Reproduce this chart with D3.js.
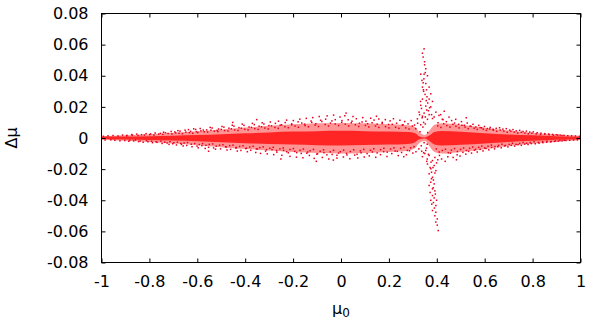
<!DOCTYPE html>
<html><head><meta charset="utf-8">
<script src="https://cdn.jsdelivr.net/npm/d3@7"></script>
<style>body{margin:0;background:#fff}svg{display:block}text{font-family:"DejaVu Sans",sans-serif;fill:#000}</style>
</head><body>
<svg id="chart" width="600" height="326"></svg>
<script>
const xTicks = [-1, -0.8, -0.6, -0.4, -0.2, 0, 0.2, 0.4, 0.6, 0.8, 1];
const yTicks = [-0.08, -0.06, -0.04, -0.02, 0, 0.02, 0.04, 0.06, 0.08];
const xTickLabels = ["-1","-0.8","-0.6","-0.4","-0.2","0","0.2","0.4","0.6","0.8","1"];
const yTickLabels = ["-0.08","-0.06","-0.04","-0.02","0","0.02","0.04","0.06","0.08"];

// envelopes of the dense core and of the medium-density band
const coreMu0   = [-1, -0.95, -0.9, -0.8, -0.7, -0.6, -0.5, -0.4, -0.3, -0.2, -0.1, 0, 0.1, 0.2, 0.28, 0.31, 0.325, 0.35, 0.37, 0.39, 0.42, 0.5, 0.6, 0.7, 0.8, 0.9, 0.95, 1];
const coreUpper = [0.0008,0.0009,0.0010,0.0012,0.0015,0.0019,0.0024,0.0030,0.0036,0.0041,0.0044,0.0046,0.0044,0.0041,0.0038,0.0030,0.0012,0.0004,0.0017,0.0038,0.0045,0.0040,0.0031,0.0023,0.0017,0.0012,0.0010,0.0008];
const coreLower = [-0.0008,-0.0009,-0.0010,-0.0013,-0.0016,-0.0021,-0.0027,-0.0033,-0.0038,-0.0042,-0.0046,-0.0048,-0.0045,-0.0042,-0.0038,-0.0027,-0.0010,-0.0004,-0.0020,-0.0042,-0.0048,-0.0044,-0.0035,-0.0025,-0.0018,-0.0012,-0.0010,-0.0008];
const bandUpper = [0.0012,0.0014,0.0017,0.0024,0.0033,0.0043,0.0055,0.0067,0.0078,0.0088,0.0094,0.0097,0.0094,0.0088,0.0082,0.0070,0.0040,0.0020,0.0050,0.0085,0.0095,0.0085,0.0066,0.0048,0.0034,0.0022,0.0017,0.0013];
const bandLower = [-0.0012,-0.0014,-0.0018,-0.0026,-0.0036,-0.0047,-0.0059,-0.0070,-0.0080,-0.0090,-0.0097,-0.0100,-0.0096,-0.0090,-0.0082,-0.0065,-0.0035,-0.0020,-0.0055,-0.0090,-0.0100,-0.0090,-0.0072,-0.0052,-0.0037,-0.0024,-0.0018,-0.0013];

// scattered outer points [mu0, dmu]
const haloPoints = [
[-0.992,0.0011],[-0.985,-0.0013],[-0.973,0.0014],[-0.961,-0.0012],[-0.952,0.0016],[-0.944,-0.0015],[-0.931,0.0013],[-0.923,-0.0018],[-0.912,0.0019],[-0.903,-0.0016],
[-0.894,0.0017],[-0.886,-0.0021],[-0.874,0.0022],[-0.866,-0.0019],[-0.853,0.0025],[-0.845,-0.0023],[-0.833,0.0021],[-0.826,-0.0027],[-0.814,0.0028],[-0.806,-0.0024],
[-0.795,0.0026],[-0.787,-0.0030],[-0.776,0.0032],[-0.768,-0.0028],[-0.754,0.0030],[-0.747,-0.0035],[-0.741,0.0037],[-0.733,0.0034],[-0.726,-0.0032],[-0.718,-0.0041],[-0.709,0.0042],[-0.703,-0.0037],
[-0.694,0.0039],[-0.687,-0.0045],[-0.681,0.0047],[-0.672,0.0044],[-0.666,-0.0041],[-0.659,-0.0051],[-0.651,0.0050],[-0.644,-0.0048],[-0.637,0.0054],[-0.628,0.0043],[-0.622,-0.0056],[-0.615,0.0059],[-0.607,0.0055],[-0.601,-0.0052],
[-0.596,-0.0063],[-0.588,0.0061],[-0.581,-0.0049],[-0.575,0.0051],[-0.567,-0.0067],[-0.561,0.0052],[-0.553,-0.0060],[-0.546,0.0068],[-0.538,0.0064],[-0.532,-0.0064],[-0.524,-0.0072],[-0.517,0.0049],[-0.511,0.0058],[-0.503,-0.0070],
[-0.497,0.0074],[-0.489,0.0070],[-0.482,-0.0056],[-0.476,-0.0077],[-0.468,0.0063],[-0.461,-0.0073],[-0.454,0.0082],[-0.447,0.0076],[-0.439,-0.0065],[-0.433,-0.0084],[-0.426,0.0067],[-0.418,-0.0080],[-0.412,0.0089],[-0.405,0.0081],
[-0.398,-0.0068],[-0.391,-0.0088],[-0.384,0.0071],[-0.377,-0.0079],[-0.370,0.0094],[-0.362,0.0086],[-0.356,-0.0093],[-0.349,-0.0071],[-0.342,0.0076],[-0.336,-0.0099],[-0.329,0.0098],[-0.322,0.0090],[-0.315,-0.0084],[-0.308,-0.0102],
[-0.301,0.0080],[-0.295,0.0103],[-0.288,-0.0075],[-0.281,-0.0107],[-0.274,0.0094],[-0.268,-0.0091],[-0.261,0.0108],[-0.254,0.0082],[-0.247,-0.0111],[-0.240,-0.0080],[-0.233,0.0099],[-0.227,0.0115],[-0.220,-0.0095],[-0.213,-0.0118],
[-0.206,0.0085],[-0.199,0.0112],[-0.193,-0.0086],[-0.186,-0.0123],[-0.179,0.0104],[-0.172,0.0121],[-0.166,-0.0099],[-0.159,-0.0127],[-0.152,0.0089],[-0.145,0.0126],[-0.139,-0.0090],[-0.132,-0.0112],[-0.125,0.0109],[-0.118,0.0131],
[-0.112,-0.0131],[-0.105,0.0092],[-0.098,-0.0101],[-0.091,0.0138],[-0.085,0.0114],[-0.078,-0.0125],[-0.071,-0.0094],[-0.064,0.0121],[-0.058,0.0142],[-0.051,-0.0135],[-0.044,0.0096],[-0.037,-0.0106],[-0.031,0.0147],[-0.024,0.0118],
[-0.017,-0.0129],[-0.010,-0.0097],[-0.004,0.0135],[0.003,0.0101],[0.010,-0.0122],[0.016,0.0143],[0.023,-0.0099],[0.030,0.0117],[0.037,-0.0133],[0.043,0.0098],[0.050,0.0138],[0.057,-0.0110],[0.064,0.0124],[0.070,-0.0128],
[0.077,0.0095],[0.084,-0.0095],[0.091,0.0131],[0.097,-0.0122],[0.104,0.0108],[0.111,0.0092],[0.118,-0.0115],[0.124,0.0127],[0.131,-0.0090],[0.138,0.0115],[0.145,-0.0124],[0.151,0.0089],[0.158,0.0122],[0.165,-0.0107],
[0.172,0.0100],[0.178,-0.0088],[0.185,0.0118],[0.192,-0.0119],[0.199,0.0087],[0.205,0.0110],[0.212,-0.0100],[0.219,0.0124],[0.226,-0.0084],[0.232,0.0095],[0.239,-0.0113],[0.246,0.0114],[0.253,-0.0093],[0.259,0.0085],
[0.266,0.0106],[0.273,-0.0108],[0.280,0.0091],[0.286,-0.0082],[0.293,0.0112],[0.300,-0.0097],[0.307,0.0083],[0.313,-0.0088],[0.320,0.0095],
[0.330,0.0040],[0.335,-0.0050],[0.342,0.0070],[0.347,-0.0030],[0.352,0.0090],[0.357,-0.0065],[0.362,0.0035],[0.337,-0.0085],[0.345,0.0100],[0.360,-0.0040],[0.325,-0.0070],[0.333,0.0085],
[0.405,0.0098],[0.411,-0.0112],[0.416,0.0150],[0.420,-0.0135],[0.426,0.0118],[0.431,0.0172],[0.435,-0.0150],[0.440,0.0105],[0.446,-0.0121],[0.451,0.0134],[0.457,-0.0098],[0.462,0.0112],[0.468,-0.0125],[0.474,0.0096],
[0.479,0.0120],[0.485,-0.0108],[0.491,0.0088],[0.497,-0.0116],[0.503,0.0105],[0.509,-0.0092],[0.515,0.0082],[0.521,-0.0104],[0.527,0.0096],[0.533,-0.0086],[0.539,0.0076],[0.545,-0.0097],[0.551,0.0088],[0.557,-0.0079],
[0.563,0.0071],[0.569,-0.0090],[0.575,0.0081],[0.581,-0.0073],[0.587,0.0066],[0.593,-0.0083],[0.599,0.0074],[0.605,-0.0067],[0.611,0.0061],[0.617,-0.0076],[0.623,0.0068],[0.629,-0.0061],[0.635,0.0056],[0.641,-0.0070],
[0.648,0.0062],[0.655,-0.0056],[0.662,0.0066],[0.669,-0.0063],[0.676,0.0057],[0.683,-0.0051],[0.690,0.0060],[0.697,-0.0057],[0.704,0.0051],[0.711,-0.0047],[0.718,0.0054],[0.725,-0.0052],[0.732,0.0046],[0.739,-0.0043],
[0.746,0.0049],[0.753,-0.0047],[0.760,0.0042],[0.767,-0.0039],[0.774,0.0044],[0.781,-0.0042],[0.788,0.0038],[0.795,-0.0036],[0.803,0.0039],[0.811,-0.0037],[0.819,0.0034],[0.827,-0.0033],[0.835,0.0031],[0.843,-0.0030],
[0.851,0.0028],[0.859,-0.0027],[0.867,0.0026],[0.875,-0.0025],[0.883,0.0023],[0.891,-0.0022],[0.899,0.0021],[0.907,-0.0020],[0.915,0.0019],[0.923,-0.0018],[0.931,0.0017],[0.939,-0.0016],[0.947,0.0015],[0.955,-0.0015],
[0.963,0.0014],[0.971,-0.0013],[0.979,0.0013],[0.987,-0.0012],[0.995,0.0011],
[-0.352,0.0118],[-0.103,-0.0150],[0.021,0.0160],[-0.251,-0.0135],[0.148,0.0140],[0.482,-0.0140],[0.523,0.0130],[-0.452,0.0100],[-0.553,-0.0085],[-0.032,-0.0142],[0.262,-0.0120]
];

// points between the core and the outer halo [mu0, dmu]
const innerPoints = [
[-0.895,0.0014],[-0.882,-0.0015],[-0.871,0.0018],[-0.858,-0.0013],[-0.847,0.0016],[-0.839,-0.0020],[-0.821,0.0019],[-0.812,-0.0017],[-0.799,0.0022],[-0.791,-0.0021],[-0.781,0.0019],[-0.772,-0.0024],[-0.761,0.0025],[-0.752,-0.0020],[-0.744,0.0023],[-0.736,-0.0027],[-0.722,0.0029],[-0.714,-0.0024],[-0.706,0.0026],[-0.698,-0.0031],[-0.690,0.0033],[-0.683,-0.0027],[-0.676,0.0030],[-0.669,-0.0035],[-0.662,0.0028],[-0.655,-0.0032],[-0.648,0.0038],[-0.641,-0.0029],[-0.633,0.0034],[-0.625,-0.0040],[-0.619,0.0031],[-0.611,-0.0036],[-0.604,0.0041],
[-0.598,0.0035],[-0.592,-0.0042],[-0.585,0.0046],[-0.578,-0.0036],[-0.571,0.0040],[-0.564,-0.0047],[-0.557,0.0038],[-0.550,-0.0041],[-0.543,0.0050],[-0.536,-0.0038],[-0.529,0.0044],[-0.521,-0.0052],[-0.514,0.0041],[-0.507,-0.0046],[-0.500,0.0055],[-0.493,-0.0043],[-0.486,0.0048],[-0.479,-0.0058],[-0.472,0.0045],[-0.465,-0.0049],[-0.458,0.0059],[-0.451,-0.0046],[-0.444,0.0052],[-0.437,-0.0061],[-0.430,0.0048],[-0.423,-0.0054],[-0.416,0.0063],[-0.409,-0.0050],[-0.402,0.0056],[-0.395,-0.0066],[-0.388,0.0052],[-0.381,-0.0058],[-0.374,0.0068],[-0.367,-0.0053],[-0.360,0.0060],[-0.353,-0.0070],[-0.346,0.0055],[-0.339,-0.0062],[-0.332,0.0072],[-0.325,-0.0057],[-0.318,0.0064],[-0.311,-0.0075],[-0.304,0.0058],
[-0.297,-0.0066],[-0.290,0.0078],[-0.283,-0.0060],[-0.276,0.0068],[-0.269,-0.0081],[-0.262,0.0062],[-0.255,-0.0070],[-0.248,0.0085],[-0.241,-0.0064],[-0.234,0.0072],[-0.227,-0.0088],[-0.220,0.0066],[-0.213,-0.0074],[-0.206,0.0091],[-0.199,-0.0068],[-0.192,0.0077],[-0.185,-0.0094],[-0.178,0.0069],[-0.171,-0.0079],[-0.164,0.0096],[-0.157,-0.0071],[-0.150,0.0080],[-0.143,-0.0098],[-0.136,0.0072],[-0.129,-0.0082],[-0.122,0.0100],[-0.115,-0.0073],[-0.108,0.0083],[-0.101,-0.0104],[-0.094,0.0074],[-0.087,-0.0085],[-0.080,0.0106],[-0.073,-0.0076],[-0.066,0.0087],[-0.059,-0.0108],[-0.052,0.0077],[-0.045,-0.0089],[-0.038,0.0110],[-0.031,-0.0079],[-0.024,0.0090],[-0.017,-0.0111],[-0.010,0.0080],[-0.003,-0.0088],
[0.004,0.0112],[0.011,-0.0078],[0.018,0.0089],[0.025,-0.0109],[0.032,0.0077],[0.039,-0.0087],[0.046,0.0108],[0.053,-0.0076],[0.060,0.0085],[0.067,-0.0105],[0.074,0.0074],[0.081,-0.0083],[0.088,0.0103],[0.095,-0.0073],[0.102,0.0081],[0.109,-0.0100],[0.116,0.0071],[0.123,-0.0079],[0.130,0.0098],[0.137,-0.0069],[0.144,0.0077],[0.151,-0.0096],[0.158,0.0068],[0.165,-0.0075],[0.172,0.0093],[0.179,-0.0066],[0.186,0.0073],[0.193,-0.0091],[0.200,0.0065],[0.207,-0.0071],[0.214,0.0088],[0.221,-0.0063],[0.228,0.0069],[0.235,-0.0086],[0.242,0.0062],[0.249,-0.0067],[0.256,0.0083],[0.263,-0.0060],[0.270,0.0065],[0.277,-0.0080],[0.284,0.0058],[0.291,-0.0063],[0.298,0.0077],[0.305,-0.0056],[0.312,0.0060],
[0.398,-0.0070],[0.404,0.0078],[0.410,-0.0090],[0.417,0.0068],[0.423,-0.0080],[0.429,0.0092],[0.436,-0.0072],[0.442,0.0080],[0.448,-0.0095],[0.455,0.0070],[0.461,-0.0078],[0.467,0.0088],[0.474,-0.0068],[0.480,0.0075],[0.486,-0.0087],[0.493,0.0065],[0.499,-0.0073],[0.505,0.0082],[0.512,-0.0064],[0.518,0.0070],[0.524,-0.0080],[0.531,0.0060],[0.537,-0.0066],[0.543,0.0075],[0.550,-0.0058],[0.556,0.0063],[0.562,-0.0073],[0.569,0.0055],[0.575,-0.0060],[0.581,0.0067],[0.588,-0.0052],[0.594,0.0057],[0.600,-0.0064],
[0.607,0.0049],[0.614,-0.0053],[0.621,0.0058],[0.628,-0.0046],[0.636,0.0050],[0.643,-0.0055],[0.650,0.0043],[0.658,-0.0047],[0.665,0.0051],[0.672,-0.0040],[0.680,0.0044],[0.687,-0.0048],[0.694,0.0037],[0.702,-0.0041],[0.709,0.0044],[0.716,-0.0034],[0.724,0.0038],[0.731,-0.0041],[0.738,0.0032],[0.746,-0.0035],[0.753,0.0037],[0.760,-0.0029],[0.768,0.0032],[0.775,-0.0034],[0.782,0.0027],[0.790,-0.0029],[0.797,0.0031],[0.806,-0.0024],[0.815,0.0026],[0.824,-0.0028],[0.833,0.0022],[0.842,-0.0024],[0.851,0.0025],[0.860,-0.0020],[0.869,0.0021],[0.878,-0.0022],[0.887,0.0018],[0.896,-0.0019],[0.905,0.0019],[0.914,-0.0016],[0.923,0.0016],[0.932,-0.0015]
];

// upward arm of the spike near mu0 ~ 0.35
const spikeUpper = [
[0.347,0.0573],[0.340,0.0545],[0.343,0.0520],[0.349,0.0490],[0.354,0.0445],[0.333,0.0410],[0.347,0.0410],[0.361,0.0400],[0.338,0.0370],[0.354,0.0350],
[0.368,0.0327],[0.340,0.0327],[0.375,0.0284],[0.351,0.0280],[0.340,0.0250],[0.368,0.0250],[0.382,0.0235],[0.333,0.0210],[0.354,0.0205],[0.375,0.0200],
[0.396,0.0166],[0.326,0.0166],[0.347,0.0160],[0.368,0.0150],[0.409,0.0145],[0.319,0.0123],[0.361,0.0120],[0.382,0.0125],[0.423,0.0120],[0.340,0.0140],
[0.358,0.0180],[0.336,0.0190],[0.362,0.0225],[0.345,0.0300],[0.357,0.0310],[0.346,0.0380],[0.359,0.0265],[0.332,0.0235],[0.389,0.0135],[0.328,0.0150],
[0.365,0.0175],[0.352,0.0420],[0.349,0.0470],[0.344,0.0310],[0.356,0.0240],[0.370,0.0195],[0.339,0.0130],[0.352,0.0135],[0.378,0.0150],[0.343,0.0355]
];
// downward arm of the spike near mu0 ~ 0.38
const spikeLower = [
[0.354,-0.0080],[0.368,-0.0112],[0.382,-0.0145],[0.361,-0.0167],[0.389,-0.0177],[0.375,-0.0198],[0.396,-0.0210],[0.368,-0.0230],[0.382,-0.0252],[0.375,-0.0284],
[0.389,-0.0295],[0.368,-0.0305],[0.382,-0.0327],[0.392,-0.0340],[0.382,-0.0370],[0.389,-0.0385],[0.375,-0.0400],[0.386,-0.0415],[0.396,-0.0434],[0.382,-0.0466],
[0.396,-0.0477],[0.402,-0.0520],[0.396,-0.0540],[0.402,-0.0560],[0.406,-0.0595],[0.345,-0.0095],[0.340,-0.0120],[0.360,-0.0135],[0.392,-0.0125],[0.399,-0.0160],
[0.372,-0.0190],[0.392,-0.0225],[0.378,-0.0262],[0.386,-0.0270],[0.372,-0.0350],[0.394,-0.0360],[0.379,-0.0425],[0.390,-0.0450],[0.392,-0.0500],[0.365,-0.0105],
[0.350,-0.0100],[0.404,-0.0140],[0.384,-0.0190],[0.376,-0.0155],[0.358,-0.0150],[0.385,-0.0320],[0.399,-0.0400],[0.378,-0.0220]
];

const m = {left: 101.5, right: 580.5, top: 13.5, bottom: 262.5};
const x = d3.scaleLinear().domain([-1, 1]).range([m.left, m.right]);
const y = d3.scaleLinear().domain([-0.08, 0.08]).range([m.bottom, m.top]);
const svg = d3.select("#chart");

const env = coreMu0.map((v, i) => ({mu0: v, chi: coreUpper[i], clo: coreLower[i], bhi: bandUpper[i], blo: bandLower[i]}));
svg.append("path").datum(env)
  .attr("d", d3.area().x(d => x(d.mu0)).y0(d => y(d.blo)).y1(d => y(d.bhi)).curve(d3.curveMonotoneX))
  .attr("fill", "#ff0000").attr("fill-opacity", 0.42);
svg.append("path").datum(env)
  .attr("d", d3.area().x(d => x(d.mu0)).y0(d => y(d.clo)).y1(d => y(d.chi)).curve(d3.curveMonotoneX))
  .attr("fill", "#ff0000").attr("fill-opacity", 0.75);

const allPts = haloPoints.concat(innerPoints, spikeUpper, spikeLower);
svg.append("g").selectAll("rect").data(allPts).join("rect")
  .attr("x", d => x(d[0]) - 0.75).attr("y", d => y(d[1]) - 0.75)
  .attr("width", 1.5).attr("height", 1.5).attr("fill", "#e8001c");

const tl = 4;
svg.append("g").attr("transform", `translate(0,${m.bottom})`)
  .call(d3.axisBottom(x).tickValues(xTicks).tickFormat((d, i) => xTickLabels[i]).tickSizeInner(-tl).tickSizeOuter(0).tickPadding(13))
  .call(g => g.select(".domain").remove())
  .call(g => g.selectAll("text").attr("font-size", 16).attr("font-family", "DejaVu Sans").attr("fill", "#000"));
svg.append("g").attr("transform", `translate(0,${m.top})`)
  .call(d3.axisTop(x).tickValues(xTicks).tickFormat("").tickSizeInner(-tl).tickSizeOuter(0))
  .call(g => g.select(".domain").remove());
svg.append("g").attr("transform", `translate(${m.left},0)`)
  .call(d3.axisLeft(y).tickValues(yTicks).tickFormat((d, i) => yTickLabels[i]).tickSizeInner(-tl).tickSizeOuter(0).tickPadding(13))
  .call(g => g.select(".domain").remove())
  .call(g => g.selectAll("text").attr("font-size", 16).attr("font-family", "DejaVu Sans").attr("fill", "#000"));
svg.append("g").attr("transform", `translate(${m.right},0)`)
  .call(d3.axisRight(y).tickValues(yTicks).tickFormat("").tickSizeInner(-tl).tickSizeOuter(0))
  .call(g => g.select(".domain").remove());
svg.selectAll(".tick line").attr("stroke", "#000");

svg.append("rect").attr("x", m.left).attr("y", m.top)
  .attr("width", m.right - m.left).attr("height", m.bottom - m.top)
  .attr("fill", "none").attr("stroke", "#000").attr("stroke-width", 1);

svg.append("text").attr("transform", `translate(17,${(m.top + m.bottom) / 2}) rotate(-90)`)
  .attr("text-anchor", "middle").attr("font-size", 16).text("Δμ");
const xl = svg.append("text").attr("x", (m.left + m.right) / 2).attr("y", 314)
  .attr("text-anchor", "middle").attr("font-size", 16);
xl.append("tspan").text("μ");
xl.append("tspan").attr("font-size", 12).attr("dy", 3).text("0");
</script>
</body></html>
